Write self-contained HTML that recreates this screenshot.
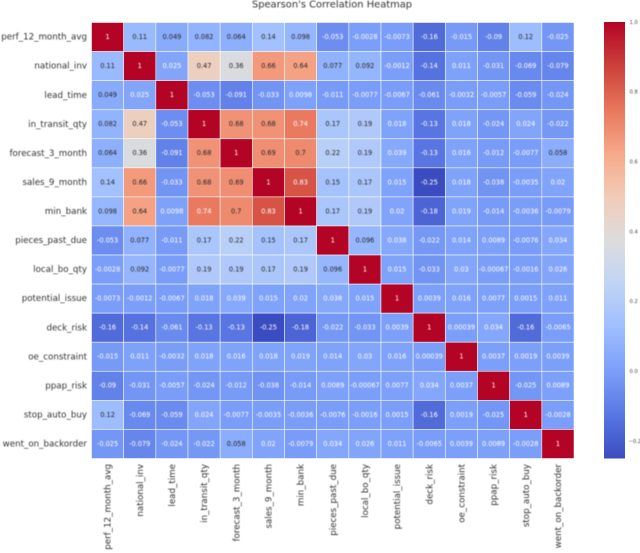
<!DOCTYPE html>
<html lang="en">
<head>
<meta charset="utf-8">
<title>Spearson's Correlation Heatmap</title>
<style>
html,body{margin:0;padding:0;background:#fff;width:640px;height:553px;overflow:hidden}
svg{display:block}
text{font-family:"DejaVu Sans","Liberation Sans",sans-serif}
</style>
</head>
<body>
<svg id="chart" xmlns="http://www.w3.org/2000/svg" width="640" height="553" viewBox="0 0 640 553">
<defs>
<linearGradient id="cbar-grad" x1="0" y1="1" x2="0" y2="0"></linearGradient>
<filter id="soft" x="-5%" y="-5%" width="110%" height="110%"><feGaussianBlur stdDeviation="0.4"></feGaussianBlur></filter>
</defs>
<text x="332" y="7.5" text-anchor="middle" font-size="9.9" fill="#333" filter="url(#soft)">Spearson's Correlation Heatmap</text>
<g id="cells"></g>
<g id="annots" filter="url(#soft)"></g>
<g id="ylabels" filter="url(#soft)"></g>
<g id="xlabels" filter="url(#soft)"></g>
<rect id="cbar" fill="url(#cbar-grad)"></rect>
<g id="cticks" filter="url(#soft)"></g>
</svg>
<script>
const categories = ["perf_12_month_avg","national_inv","lead_time","in_transit_qty","forecast_3_month","sales_9_month","min_bank","pieces_past_due","local_bo_qty","potential_issue","deck_risk","oe_constraint","ppap_risk","stop_auto_buy","went_on_backorder"];
const row0 = [1,0.11,0.049,0.082,0.064,0.14,0.098,-0.053,-0.0028,-0.0073,-0.16,-0.015,-0.09,0.12,-0.025];
const row1 = [0.11,1,0.025,0.47,0.36,0.66,0.64,0.077,0.092,-0.0012,-0.14,0.011,-0.031,-0.069,-0.079];
const row2 = [0.049,0.025,1,-0.053,-0.091,-0.033,0.0098,-0.011,-0.0077,-0.0067,-0.061,-0.0032,-0.0057,-0.059,-0.024];
const row3 = [0.082,0.47,-0.053,1,0.68,0.68,0.74,0.17,0.19,0.018,-0.13,0.018,-0.024,0.024,-0.022];
const row4 = [0.064,0.36,-0.091,0.68,1,0.69,0.7,0.22,0.19,0.039,-0.13,0.016,-0.012,-0.0077,0.058];
const row5 = [0.14,0.66,-0.033,0.68,0.69,1,0.83,0.15,0.17,0.015,-0.25,0.018,-0.038,-0.0035,0.02];
const row6 = [0.098,0.64,0.0098,0.74,0.7,0.83,1,0.17,0.19,0.02,-0.18,0.019,-0.014,-0.0036,-0.0079];
const row7 = [-0.053,0.077,-0.011,0.17,0.22,0.15,0.17,1,0.096,0.038,-0.022,0.014,0.0089,-0.0076,0.034];
const row8 = [-0.0028,0.092,-0.0077,0.19,0.19,0.17,0.19,0.096,1,0.015,-0.033,0.03,-0.00067,-0.0016,0.026];
const row9 = [-0.0073,-0.0012,-0.0067,0.018,0.039,0.015,0.02,0.038,0.015,1,0.0039,0.016,0.0077,0.0015,0.011];
const row10 = [-0.16,-0.14,-0.061,-0.13,-0.13,-0.25,-0.18,-0.022,-0.033,0.0039,1,0.00039,0.034,-0.16,-0.0065];
const row11 = [-0.015,0.011,-0.0032,0.018,0.016,0.018,0.019,0.014,0.03,0.016,0.00039,1,0.0037,0.0019,0.0039];
const row12 = [-0.09,-0.031,-0.0057,-0.024,-0.012,-0.038,-0.014,0.0089,-0.00067,0.0077,0.034,0.0037,1,-0.025,0.0089];
const row13 = [0.12,-0.069,-0.059,0.024,-0.0077,-0.0035,-0.0036,-0.0076,-0.0016,0.0015,-0.16,0.0019,-0.025,1,-0.0028];
const row14 = [-0.025,-0.079,-0.024,-0.022,0.058,0.02,-0.0079,0.034,0.026,0.011,-0.0065,0.0039,0.0089,-0.0028,1];
const matrix = [row0,row1,row2,row3,row4,row5,row6,row7,row8,row9,row10,row11,row12,row13,row14];
const colorbarTicks = [1.0,0.8,0.6,0.4,0.2,0.0,-0.2];

const NS = "http://www.w3.org/2000/svg";
const plot = {left:91.5, right:574, top:22.5, bottom:458.5};
const bar = {left:604, right:625, top:22, bottom:458.5};
const vMin = -0.25, vMax = 1;
const ramp = [[59,76,192],[89,119,227],[123,159,249],[158,190,255],[192,212,245],[221,220,220],[242,203,183],[247,168,137],[232,118,92],[204,64,58],[180,4,38]];

const nCols = categories.length;
const cellW = (plot.right - plot.left) / nCols;
const cellH = (plot.bottom - plot.top) / nCols;
function xAxis(i){ return plot.left + i * cellW; }
function yAxis(i){ return plot.top + i * cellH; }
function barY(v){ return bar.bottom - (v - vMin) / (vMax - vMin) * (bar.bottom - bar.top); }
function colorOf(v){
  const t = Math.max(0, Math.min(1, (v - vMin) / (vMax - vMin))) * (ramp.length - 1);
  const k = Math.min(ramp.length - 2, Math.floor(t));
  const f = t - k;
  const c = ramp[k].map((a, n) => Math.round(a + (ramp[k + 1][n] - a) * f));
  return "rgb(" + c.join(",") + ")";
}
function fmt(v){ return String(v); }
function textColor(v){ return (v >= 0.045 && v < 0.74) ? "#262626" : "#ffffff"; }

const cellsG = document.getElementById("cells");
const annotsG = document.getElementById("annots");
matrix.forEach((row, r) => {
  row.forEach((v, c) => {
    const rect = document.createElementNS(NS, "rect");
    
    
    rect.setAttribute("x", xAxis(c));
    rect.setAttribute("y", yAxis(r));
    rect.setAttribute("width", cellW);
    rect.setAttribute("height", cellH);
    rect.setAttribute("fill", colorOf(v));
    rect.setAttribute("stroke", "#fff");
    rect.setAttribute("stroke-opacity", "0.75");
    rect.setAttribute("stroke-width", "0.7");
    cellsG.appendChild(rect);
    const t = document.createElementNS(NS, "text");
    
    
    t.setAttribute("x", xAxis(c) + cellW / 2);
    t.setAttribute("y", yAxis(r) + cellH / 2 + 1.9);
    t.setAttribute("text-anchor", "middle");
    t.setAttribute("font-size", "6.6");
    t.setAttribute("fill", textColor(v));
    t.textContent = fmt(v);
    annotsG.appendChild(t);
  });
});

const yG = document.getElementById("ylabels");
const xG = document.getElementById("xlabels");
categories.forEach((name, i) => {
  const yl = document.createElementNS(NS, "text");
  
  
  yl.setAttribute("x", 87);
  yl.setAttribute("y", yAxis(i) + cellH / 2 + 2.6);
  yl.setAttribute("text-anchor", "end");
  yl.setAttribute("font-size", "8.7");
  yl.setAttribute("fill", "#333");
  yl.textContent = name;
  yG.appendChild(yl);
  const xl = document.createElementNS(NS, "text");
  const cx = xAxis(i) + cellW / 2 + 3;
  
  
  xl.setAttribute("transform", "translate(" + cx + ",464) rotate(-90)");
  xl.setAttribute("text-anchor", "end");
  xl.setAttribute("font-size", "8.7");
  xl.setAttribute("fill", "#333");
  xl.textContent = name;
  xG.appendChild(xl);
});

const grad = document.getElementById("cbar-grad");
ramp.forEach((c, i) => {
  const s = document.createElementNS(NS, "stop");
  s.setAttribute("offset", (i / (ramp.length - 1) * 100) + "%");
  s.setAttribute("stop-color", "rgb(" + c.join(",") + ")");
  grad.appendChild(s);
});
const cb = document.getElementById("cbar");
cb.setAttribute("x", bar.left);
cb.setAttribute("y", bar.top);
cb.setAttribute("width", bar.right - bar.left);
cb.setAttribute("height", bar.bottom - bar.top);

const ctG = document.getElementById("cticks");
colorbarTicks.forEach(v => {
  const t = document.createElementNS(NS, "text");
  
  
  t.setAttribute("x", v < 0 ? 628.5 : 629.5);
  t.setAttribute("y", barY(v) + 1.8);
  t.setAttribute("font-size", "5.2");
  t.setAttribute("fill", "#444");
  t.textContent = v.toFixed(1).replace("-", "\u2212");
  ctG.appendChild(t);
});
</script>
</body>
</html>
